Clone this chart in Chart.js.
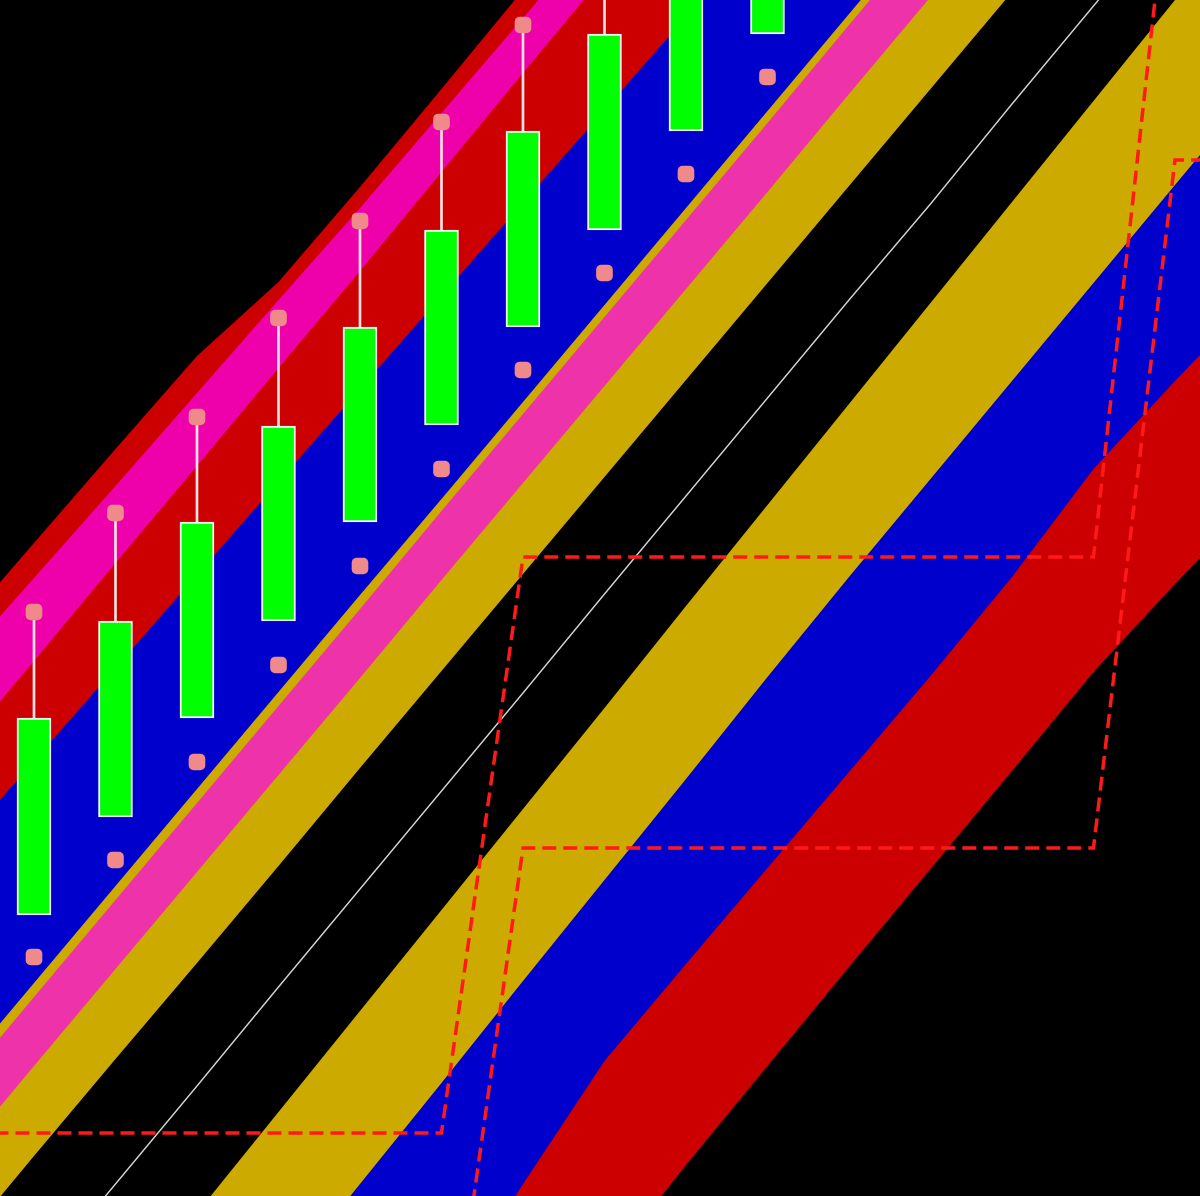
<!DOCTYPE html>
<html>
<head>
<meta charset="utf-8">
<style>
  html, body { margin: 0; padding: 0; background: #000; }
  canvas { display: block; background: #000; }
</style>
<script src="https://cdn.jsdelivr.net/npm/chart.js@4.4.1/dist/chart.umd.min.js"></script>
</head>
<body>
<canvas id="c" width="1200" height="1196"></canvas>
<script>
// x positions (bar index) used by the band / indicator lines
const xIdx = [-1, 0, 1, 2, 3, 4, 5, 6, 7, 8, 9, 10, 11, 12, 13, 14, 15];

// band boundaries, from upper-left to lower-right
const lineA = [55.9, 65.3, 74.7, 84.0, 91.4, 100.9, 110.7, 120.6, 130.4, 140.3, 150.1, 160.0, 169.8, 179.7, 189.5, 199.4, 209.2];
const lineB = [52.6, 61.8, 71.0, 80.3, 89.6, 98.8, 108.3, 117.8, 127.3, 136.8, 146.2, 155.7, 165.2, 174.7, 184.2, 193.7, 203.2];
const lineC = [43.8, 53.5, 63.3, 73.0, 82.8, 92.5, 102.4, 112.3, 122.1, 132.0, 141.8, 151.7, 161.6, 171.3, 181.3, 191.1, 201.0];
const lineD = [34.2, 43.5, 52.8, 62.1, 71.4, 80.7, 90.0, 99.3, 108.6, 117.9, 127.2, 136.5, 145.9, 155.2, 164.5, 173.8, 183.1];
const lineE = [11.6, 21.3, 31.0, 40.7, 50.4, 60.1, 69.7, 79.4, 89.1, 98.8, 108.5, 118.2, 127.9, 137.7, 147.4, 157.1, 166.8];
const lineF = [10.1, 19.9, 29.6, 39.3, 49.0, 58.7, 68.5, 78.2, 87.9, 97.6, 107.3, 117.1, 126.8, 136.5, 146.2, 156.0, 165.7];
const lineG = [3.2, 13.0, 22.7, 32.4, 42.1, 51.8, 61.6, 71.3, 81.0, 90.7, 100.4, 110.2, 119.9, 129.6, 139.3, 149.1, 158.8];
const lineH = [-5.8, 4.0, 13.7, 23.3, 33.0, 42.8, 52.5, 62.2, 71.9, 81.6, 91.3, 101.0, 110.7, 120.4, 130.1, 139.8, 149.5];
const midLine = [-18.4, -8.6, 1.2, 11.0, 20.9, 30.7, 40.5, 50.3, 60.2, 70.0, 79.8, 89.6, 99.2, 109.2, 119.0, 128.8, 138.6];
const lineI = [-32.0, -21.9, -11.8, -1.7, 8.4, 18.5, 28.6, 38.7, 48.8, 59.0, 69.1, 79.2, 89.3, 99.4, 109.5, 119.6, 129.7];
const lineJ = [-49.5, -39.3, -29.2, -19.1, -8.9, 1.2, 11.3, 21.5, 31.6, 41.7, 51.9, 61.9, 71.7, 81.5, 91.3, 101.1, 110.9];
const lineK = [-90.0, -77.0, -63.9, -50.9, -37.8, -24.8, -11.8, 1.2, 13.5, 23.2, 32.8, 42.4, 52.0, 61.9, 72.7, 81.5, 90.0];
const lineL = [-92.0, -81.4, -70.8, -60.2, -49.6, -39.0, -28.4, -17.8, -7.2, 3.1, 13.0, 22.9, 32.7, 42.5, 52.4, 61.2, 69.6];

// stepped channel lines (dashed)
const stepUpper = [6.3, 6.3, 6.3, 6.3, 6.3, 6.3, 6.3, 63.9, 63.9, 63.9, 63.9, 63.9, 63.9, 63.9, 63.9, 137.7, 137.7];
const stepLower = [-23.0, -23.0, -23.0, -23.0, -23.0, -23.0, -23.0, 34.8, 34.8, 34.8, 34.8, 34.8, 34.8, 34.8, 34.8, 103.6, 103.6];

// candles
const candleX = [0, 1, 2, 3, 4, 5, 6, 7, 8, 9];
const openV  = [28.1, 37.9, 47.8, 57.5, 67.4, 77.1, 86.9, 96.6, 106.5, 116.2];
const closeV = [47.8, 57.5, 67.4, 77.0, 86.9, 96.6, 106.5, 116.2, 126.0, 135.8];
const highV  = [58.4, 68.3, 77.9, 87.8, 97.5, 107.4, 117.1, 126.9, 136.7, 146.4];
const lowV   = [23.9, 33.6, 43.4, 53.1, 63.0, 72.7, 82.6, 92.3, 102.2, 111.9];

const pts = arr => xIdx.map((x, k) => ({ x: x, y: arr[k] }));

function band(arr, color, order) {
  return {
    type: 'line', data: pts(arr), order: order,
    fill: 'start', backgroundColor: color,
    borderColor: 'rgba(0,0,0,0)', borderWidth: 0,
    pointRadius: 0, tension: 0
  };
}

const datasets = [
  band(lineA, '#cc0000', 100),
  band(lineB, '#ee00aa', 99),
  band(lineC, '#cc0000', 98),
  band(lineD, '#0000cc', 97),
  band(lineE, '#ccaa00', 96),
  band(lineF, '#ee33aa', 95),
  band(lineG, '#ccaa00', 94),
  band(lineH, '#000000', 93),
  band(lineI, '#ccaa00', 92),
  band(lineJ, '#0000cc', 91),
  band(lineK, '#cc0000', 90),
  band(lineL, '#000000', 89),
  {
    type: 'line', data: pts(midLine), order: 10, fill: false,
    borderColor: '#d4d4d4', borderWidth: 1.4, pointRadius: 0, tension: 0
  },
  {
    type: 'line', data: pts(stepUpper), order: 9, fill: false,
    borderColor: '#ff1a1a', borderWidth: 3.5, borderDash: [14, 7], pointRadius: 0, tension: 0
  },
  {
    type: 'line', data: pts(stepLower), order: 8, fill: false,
    borderColor: '#ff1a1a', borderWidth: 3.5, borderDash: [14, 7], pointRadius: 0, tension: 0
  },
  {
    type: 'bar', order: 5, grouped: false,
    data: candleX.map((x, k) => ({ x: x, y: [closeV[k], highV[k]] })),
    backgroundColor: '#ffe2e2', borderWidth: 0, barThickness: 2
  },
  {
    type: 'bar', order: 4, grouped: false,
    data: candleX.map((x, k) => ({ x: x, y: [openV[k], closeV[k]] })),
    backgroundColor: '#00ff00', borderColor: '#f4f4f4', borderWidth: 2,
    borderSkipped: false, barThickness: 34
  },
  {
    type: 'scatter', order: 3,
    data: candleX.map((x, k) => ({ x: x, y: highV[k] })).concat(candleX.map((x, k) => ({ x: x, y: lowV[k] }))),
    backgroundColor: '#f08a8a', borderWidth: 0,
    pointStyle: 'rectRounded', pointRadius: 9.7, showLine: false
  }
];

new Chart(document.getElementById('c').getContext('2d'), {
  type: 'line',
  data: { datasets: datasets },
  options: {
    responsive: false,
    animation: false,
    layout: { padding: 0, autoPadding: false },
    plugins: { legend: { display: false }, tooltip: { enabled: false } },
    scales: {
      x: { type: 'linear', min: -0.417, max: 14.307, display: false, offset: false },
      y: { type: 'linear', min: 0, max: 119.6, display: false }
    }
  }
});
</script>
</body>
</html>
